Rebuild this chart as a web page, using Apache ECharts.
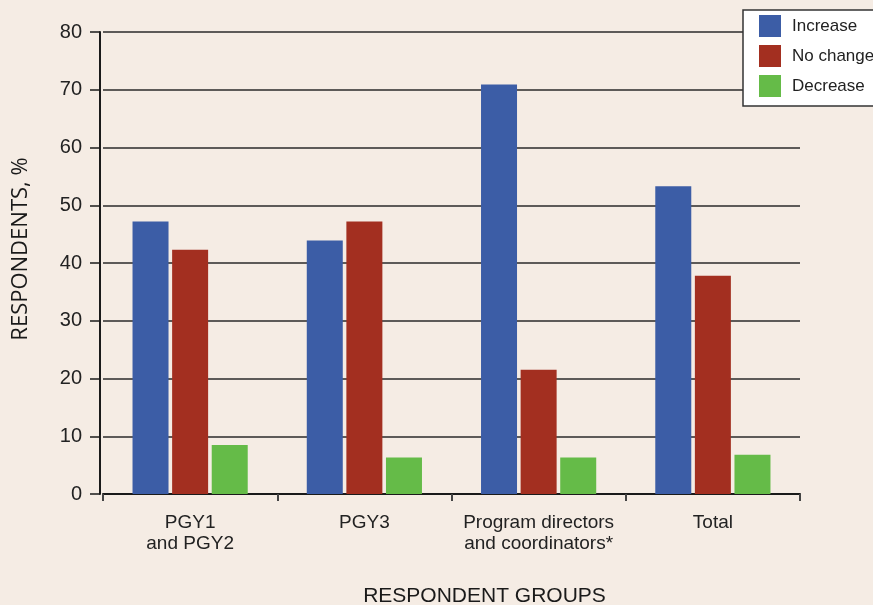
<!DOCTYPE html>
<html>
<head>
<meta charset="utf-8">
<script src="https://cdn.jsdelivr.net/npm/echarts@6/dist/echarts.min.js"></script>
<style>
  html, body { margin: 0; padding: 0; background: #f5ece4; }
  #chart { width: 873px; height: 605px; }
</style>
</head>
<body>
<div id="chart"></div>
<script>
// Respondent groups along the x axis
const categories = ['PGY1\nand PGY2', 'PGY3', 'Program directors\nand coordinators*', 'Total'];

// Share of respondents (%) per answer
const increase = [47.2, 43.9, 70.9, 53.3];
const noChange = [42.3, 47.2, 21.5, 37.8];
const decrease = [8.5, 6.3, 6.3, 6.8];

const seriesNames = ['Increase', 'No change', 'Decrease'];
const yTicks = { min: 0, max: 80, interval: 10 };

const colors = ['#3c5da6', '#a32f20', '#65bb48'];
const sans = '"Liberation Sans", Roboto, sans-serif';

const chart = echarts.init(document.getElementById('chart'), null, { renderer: 'canvas' });

const bar = (name, data, color) => ({
  name: name,
  type: 'bar',
  data: data,
  barWidth: 36,
  barGap: '10%',
  itemStyle: { color: color },
  emphasis: { disabled: true }
});

chart.setOption({
  backgroundColor: '#f5ece4',
  animation: false,
  grid: { left: 103, right: 73, top: 32, bottom: 111, containLabel: false, outerBoundsMode: 'none' },
  legend: {
    orient: 'vertical',
    left: 743,
    top: 10,
    data: seriesNames,
    backgroundColor: '#ffffff',
    borderColor: '#333333',
    borderWidth: 1.5,
    borderRadius: 0,
    padding: [5, 20, 9, 16],
    itemWidth: 22,
    itemHeight: 22,
    itemGap: 8,
    icon: 'rect',
    textStyle: { fontFamily: sans, fontSize: 17, color: '#222222', padding: [0, 0, 0, 6] }
  },
  xAxis: {
    type: 'category',
    data: categories,
    name: 'RESPONDENT GROUPS',
    nameLocation: 'middle',
    nameGap: 92,
    nameTextStyle: { fontFamily: sans, fontSize: 21, color: '#1a1a1a', padding: [0, 0, 0, 66] },
    axisLine: { show: true, lineStyle: { color: '#1a1a1a', width: 2 } },
    axisTick: { show: true, interval: 0, length: 7, lineStyle: { color: '#444444', width: 2 } },
    axisLabel: { interval: 0, fontFamily: sans, fontSize: 19, color: '#222222', lineHeight: 21, margin: 18 },
    splitLine: { show: false }
  },
  yAxis: {
    type: 'value',
    min: yTicks.min,
    max: yTicks.max,
    interval: yTicks.interval,
    offset: 3,
    name: 'RESPONDENTS, %',
    nameLocation: 'middle',
    nameGap: 68,
    nameRotate: 90,
    nameTextStyle: { fontFamily: '"Open Sans", "Noto Sans", sans-serif', fontSize: 22, color: '#1a1a1a', padding: [0, 0, 0, 28] },
    axisLine: { show: true, lineStyle: { color: '#1a1a1a', width: 2 } },
    axisTick: { show: true, length: 10, lineStyle: { color: '#1a1a1a', width: 1.5 } },
    axisLabel: { fontFamily: sans, fontSize: 20, color: '#222222', margin: 18 },
    splitLine: { show: true, lineStyle: { color: '#2a2a2a', width: 1.5 } }
  },
  series: [
    bar(seriesNames[0], increase, colors[0]),
    bar(seriesNames[1], noChange, colors[1]),
    bar(seriesNames[2], decrease, colors[2])
  ]
});
</script>
</body>
</html>
